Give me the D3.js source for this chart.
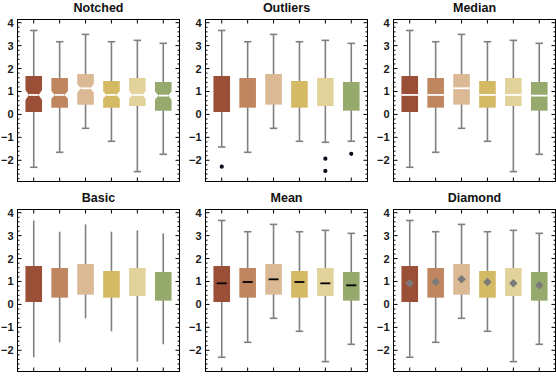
<!DOCTYPE html>
<html><head><meta charset="utf-8">
<script src="https://cdn.jsdelivr.net/npm/d3@7"></script>
<style>body{margin:0;background:#fff}svg{display:block}</style></head>
<body>
<svg id="c" width="556" height="378"></svg>
<script>
// ---- data ----
const categories = [1, 2, 3, 4, 5, 6];
const panelTitles = ["Notched", "Outliers", "Median", "Basic", "Mean", "Diamond"];
const whiskerHigh = [3.66, 3.17, 3.49, 3.17, 3.23, 3.10];
const q3 = [1.675, 1.588, 1.763, 1.457, 1.588, 1.414];
const median = [0.85, 0.85, 1.14, 0.85, 0.85, 0.82];
const q1 = [0.106, 0.295, 0.426, 0.295, 0.368, 0.164];
const whiskerLow = [-2.305, -1.652, -0.606, -1.172, -2.494, -1.739];
const fenceLow = [-1.42, -1.652, -0.606, -1.172, -1.216, -1.17];
const outliers = [[-2.28], [], [], [], [-1.93, -2.465], [-1.72]];
const means = [0.92, 0.978, 1.094, 0.978, 0.92, 0.833];
const notchLow = [0.63, 0.68, 0.95, 0.69, 0.68, 0.645];
const notchHigh = [1.07, 1.02, 1.33, 1.01, 1.02, 0.995];
const yTicks = [-2, -1, 0, 1, 2, 3, 4];
const boxColors = ["#9b4f36", "#c0865f", "#dbb995", "#d4ba65", "#e2d39d", "#97aa6d"];

// ---- layout ----
const svg = d3.select("#c");
const W = 162, H = 162;
const colX = [17.5, 205.5, 393.5], rowY = [19.5, 209.5];
const y = d3.scaleLinear().domain([-2.925, 4.1395]).range([H, 0]);
const x = d3.scalePoint().domain(categories).range([0, W]).padding(0.627);
const bw = 16.6, capW = 7.5;
const minorTicks = d3.range(-2.8, 4.11, 0.2).map(v => Math.round(v * 10) / 10).filter(v => !yTicks.includes(v));
const whiskerColor = "#808080";
const font = "'Liberation Sans', Arial, sans-serif";

panelTitles.forEach((title, pi) => {
  const g = svg.append("g").attr("transform", `translate(${colX[pi % 3]},${rowY[Math.floor(pi / 3)]})`);
  g.append("text").attr("x", W / 2).attr("y", -7.5).attr("text-anchor", "middle")
    .attr("font-family", font).attr("font-weight", "bold").attr("font-size", 12.5).attr("fill", "#111").text(title);

  categories.forEach((c, i) => {
    const cx = x(c);
    const lo = title === "Outliers" ? fenceLow[i] : whiskerLow[i];
    g.append("line").attr("x1", cx).attr("x2", cx).attr("y1", y(whiskerHigh[i])).attr("y2", y(lo))
      .attr("stroke", whiskerColor).attr("stroke-width", 1.6);
    if (title !== "Basic") {
      [whiskerHigh[i], lo].forEach(v => g.append("line").attr("x1", cx - capW / 2).attr("x2", cx + capW / 2)
        .attr("y1", y(v)).attr("y2", y(v)).attr("stroke", whiskerColor).attr("stroke-width", 1.6));
    }
    if (title === "Notched") {
      const l = cx - bw / 2, r = cx + bw / 2, nin = bw * 0.21;
      const p = d3.path();
      p.moveTo(l, y(q3[i])); p.lineTo(r, y(q3[i])); p.lineTo(r, y(notchHigh[i]));
      p.lineTo(r - nin, y(median[i])); p.lineTo(r, y(notchLow[i])); p.lineTo(r, y(q1[i]));
      p.lineTo(l, y(q1[i])); p.lineTo(l, y(notchLow[i])); p.lineTo(l + nin, y(median[i]));
      p.lineTo(l, y(notchHigh[i])); p.closePath();
      g.append("path").attr("d", p.toString()).attr("fill", boxColors[i]);
      g.append("line").attr("x1", l + nin).attr("x2", r - nin).attr("y1", y(median[i])).attr("y2", y(median[i]))
        .attr("stroke", "#fff").attr("stroke-width", 1.8);
    } else {
      g.append("rect").attr("x", cx - bw / 2).attr("width", bw).attr("y", y(q3[i]))
        .attr("height", y(q1[i]) - y(q3[i])).attr("fill", boxColors[i]);
    }
    if (title === "Median") {
      g.append("line").attr("x1", cx - bw / 2).attr("x2", cx + bw / 2).attr("y1", y(median[i])).attr("y2", y(median[i]))
        .attr("stroke", "#fff").attr("stroke-width", 1.8);
    }
    if (title === "Mean") {
      g.append("line").attr("x1", cx - 5).attr("x2", cx + 5).attr("y1", y(means[i])).attr("y2", y(means[i]))
        .attr("stroke", "#000").attr("stroke-width", 1.8);
    }
    if (title === "Diamond") {
      const s = d3.symbol().type(d3.symbolDiamond2).size(46);
      g.append("path").attr("d", s()).attr("transform", `translate(${cx},${y(means[i])})`)
        .attr("fill", "#7a7a7a");
    }
    if (title === "Outliers") {
      outliers[i].forEach(v => g.append("circle").attr("cx", cx).attr("cy", y(v)).attr("r", 2.1).attr("fill", "#0b0b1a"));
    }
  });

  // frame & ticks
  g.append("rect").attr("width", W).attr("height", H).attr("fill", "none").attr("stroke", "#000").attr("stroke-width", 1);
  yTicks.forEach(v => {
    g.append("line").attr("x1", 0).attr("x2", 4).attr("y1", y(v)).attr("y2", y(v)).attr("stroke", "#000");
    g.append("line").attr("x1", W).attr("x2", W - 4).attr("y1", y(v)).attr("y2", y(v)).attr("stroke", "#000");
    g.append("text").attr("x", -4).attr("y", y(v)).attr("dy", "0.36em").attr("text-anchor", "end")
      .attr("font-family", font).attr("font-weight", "bold").attr("font-size", 11).attr("fill", "#1a1a1a")
      .text(v < 0 ? "\u2212" + Math.abs(v) : String(v));
  });
  minorTicks.forEach(v => {
    g.append("line").attr("x1", 0).attr("x2", 2).attr("y1", y(v)).attr("y2", y(v)).attr("stroke", "#000");
    g.append("line").attr("x1", W).attr("x2", W - 2).attr("y1", y(v)).attr("y2", y(v)).attr("stroke", "#000");
  });
  categories.forEach(c => {
    g.append("line").attr("x1", x(c)).attr("x2", x(c)).attr("y1", 0).attr("y2", 4).attr("stroke", "#000");
    g.append("line").attr("x1", x(c)).attr("x2", x(c)).attr("y1", H).attr("y2", H - 4).attr("stroke", "#000");
  });
});
</script>
</body></html>
